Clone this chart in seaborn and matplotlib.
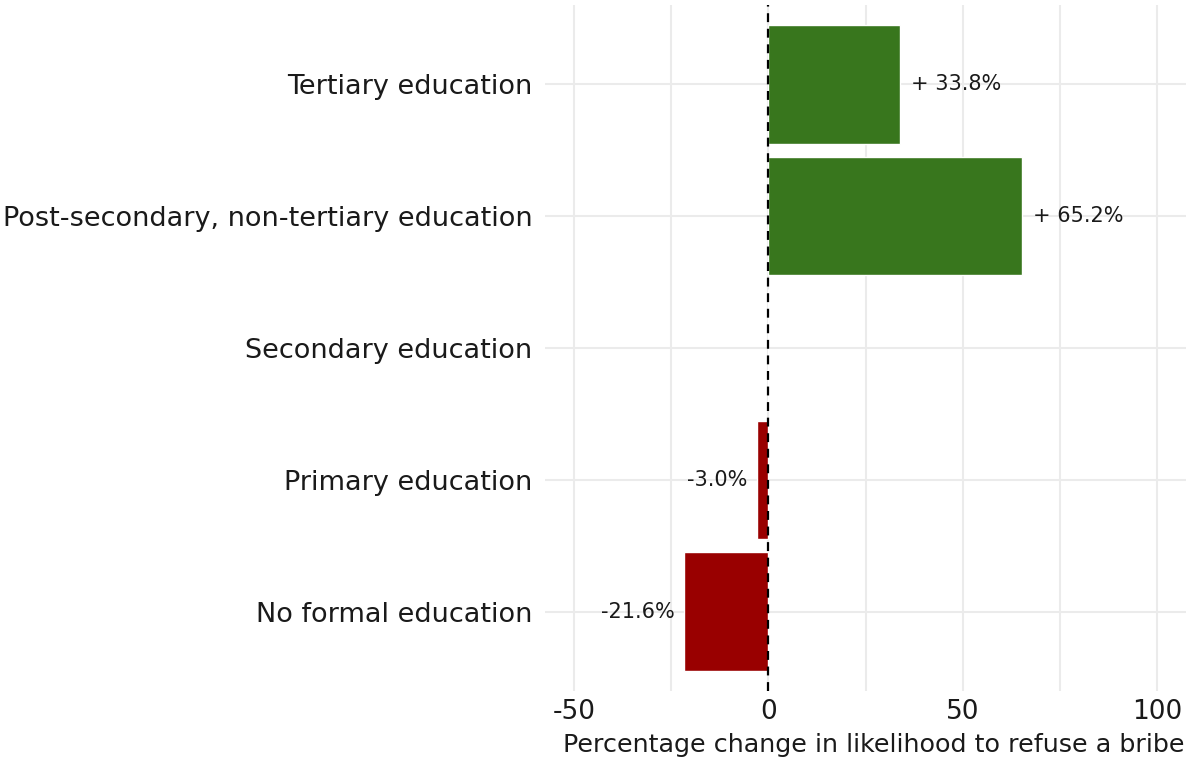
import matplotlib
matplotlib.use("Agg")
import matplotlib.pyplot as plt
import seaborn as sns
import pandas as pd

categories = ["Tertiary education", "Post-secondary, non-tertiary education",
              "Secondary education", "Primary education", "No formal education"]
values = [33.8, 65.2, 0.0, -3.0, -21.6]
labels = ["+ 33.8%", "+ 65.2%", "", "-3.0%", "-21.6%"]

df = pd.DataFrame({"education": categories, "change": values})

sns.set_style("white")
plt.rcParams["font.family"] = ["DejaVu Sans"]
plt.rcParams["axes.unicode_minus"] = False

fig = plt.figure(figsize=(11.86, 7.58), dpi=100)
ax = fig.add_axes([545 / 1186, 1 - 691 / 758, 1 - 545 / 1186, 686 / 758])

colors = ["#38761d" if v > 0 else "#990000" for v in values]
sns.barplot(data=df, x="change", y="education", hue="education", palette=colors,
            legend=False, width=0.9, orient="h", ax=ax, saturation=1)

for i, (v, lab) in enumerate(zip(values, labels)):
    if not lab:
        continue
    if v > 0:
        ax.text(v + 2.8, i, lab, va="center", ha="left", fontsize=15, color="#1a1a1a")
    else:
        ax.text(v - 2.4, i, lab, va="center", ha="right", fontsize=15, color="#1a1a1a")

ax.axvline(0, color="black", linestyle=(0, (4, 3)), linewidth=1.6, zorder=5)

ax.set_xlim(-57.5, 107.5)
ax.set_ylim(4.6, -0.6)
ax.set_xticks([-50, 0, 50, 100])
ax.set_xticks([-25, 25, 75], minor=True)
ax.grid(True, which="both", axis="both", color="#ebebeb", linewidth=1.5)
ax.set_axisbelow(True)
for s in ax.spines.values():
    s.set_visible(False)
ax.tick_params(axis="x", length=0, labelsize=19, colors="#1a1a1a", pad=6)
ax.tick_params(axis="y", length=0, labelsize=19.5, colors="#1a1a1a", pad=9)
ax.set_ylabel("")
ax.set_xlabel("Percentage change in likelihood to refuse a bribe", fontsize=18.3,
              color="#1a1a1a")
ax.xaxis.set_label_coords(0.997, -0.079, transform=ax.transAxes)
ax.xaxis.label.set_ha("right")
ax.xaxis.label.set_va("center")

fig.savefig("out.png", dpi=100)
